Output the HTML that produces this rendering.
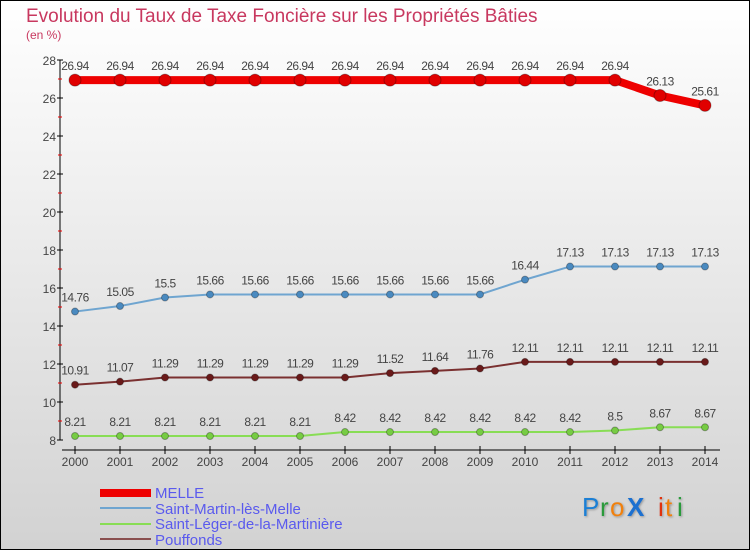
<!DOCTYPE html>
<html><head><meta charset="utf-8"><style>
body{margin:0}
svg{display:block;font-family:"Liberation Sans","DejaVu Sans",sans-serif}
</style></head><body>
<svg id="c" width="750" height="550" viewBox="0 0 750 550">
<defs><linearGradient id="bg" x1="0" y1="0" x2="0" y2="1"><stop offset="0" stop-color="#ffffff"/><stop offset="1" stop-color="#d2d2d2"/></linearGradient>
<filter id="sh"><feDropShadow dx="1" dy="1" stdDeviation="1" flood-opacity="0.3"/></filter></defs>
<rect x="0.5" y="0.5" width="749" height="549" fill="url(#bg)" stroke="#000"/>
<text x="26" y="22" font-size="19" fill="#c8385f">Evolution du Taux de Taxe Foncière sur les Propriétés Bâties</text>
<text x="26" y="39" font-size="12" fill="#c8385f">(en %)</text>
<g id="axes"></g><g id="series"></g>
<g>
<rect x="100" y="489" width="51" height="8" fill="#ee0000"/>
<text x="155" y="498" font-size="15" fill="#5a5aee">MELLE</text>
<rect x="100" y="507" width="51" height="2" fill="#6fa5d0"/>
<text x="155" y="514" font-size="15" fill="#5a5aee">Saint-Martin-lès-Melle</text>
<rect x="100" y="523" width="51" height="2" fill="#88dd55"/>
<text x="155" y="529" font-size="15" fill="#5a5aee">Saint-Léger-de-la-Martinière</text>
<rect x="100" y="538" width="51" height="2" fill="#8a5050"/>
<text x="155" y="545" font-size="15" fill="#5a5aee">Pouffonds</text>
</g>
<g font-size="26" filter="url(#sh)">
<text x="582" y="516" fill="#1a7fd4">P</text><text x="600" y="516" fill="#2a9a3a">r</text><text x="610" y="516" fill="#f08010">o</text><text x="627" y="516" fill="#1a6fd0" font-weight="bold">X</text><text x="658" y="516" fill="#e03010">i</text><text x="665" y="516" fill="#f08010">t</text><text x="677" y="516" fill="#2a9a3a">i</text>
</g>
</svg>
<script>
const years=[2000,2001,2002,2003,2004,2005,2006,2007,2008,2009,2010,2011,2012,2013,2014];
const melle=[26.94,26.94,26.94,26.94,26.94,26.94,26.94,26.94,26.94,26.94,26.94,26.94,26.94,26.13,25.61];
const saintMartin=[14.76,15.05,15.5,15.66,15.66,15.66,15.66,15.66,15.66,15.66,16.44,17.13,17.13,17.13,17.13];
const saintLeger=[8.21,8.21,8.21,8.21,8.21,8.21,8.42,8.42,8.42,8.42,8.42,8.42,8.5,8.67,8.67];
const pouffonds=[10.91,11.07,11.29,11.29,11.29,11.29,11.29,11.52,11.64,11.76,12.11,12.11,12.11,12.11,12.11];
const yTicks=[8,10,12,14,16,18,20,22,24,26,28];
const NS="http://www.w3.org/2000/svg";
const X=y=>75+(y-2000)*45, Y=v=>440-(v-8)*19;
function mk(p,t,a){const e=document.createElementNS(NS,t);for(const k in a)e.setAttribute(k,a[k]);p.appendChild(e);return e;}
const ax=document.getElementById('axes'), sr=document.getElementById('series');
let l=mk(ax,'line',{x1:60,y1:60,x2:60,y2:440,stroke:'#000'});


l=mk(ax,'line',{x1:62,y1:450,x2:720,y2:450,stroke:'#000'});


for(let v=9;v<28;v+=2){mk(ax,'line',{x1:58,x2:62,y1:Y(v),y2:Y(v),stroke:'#e00'});}
yTicks.forEach(v=>{mk(ax,'line',{x1:57,x2:63,y1:Y(v),y2:Y(v),stroke:'#000'});
const t=mk(ax,'text',{x:56,y:Y(v)+5,'text-anchor':'end','font-size':12,fill:'#444'});t.textContent=v;

});
years.forEach(y=>{mk(ax,'line',{x1:X(y),x2:X(y),y1:446,y2:454,stroke:'#000'});
const t=mk(ax,'text',{x:X(y),y:466,'text-anchor':'middle','font-size':12,fill:'#444'});t.textContent=y;

});
function series(d,name,col,w,r,dot){
const g=mk(sr,'g',{});


const p=mk(g,'polyline',{points:d.map((v,i)=>X(years[i])+','+Y(v)).join(' '),fill:'none',stroke:col,'stroke-width':w,'stroke-linejoin':'round'});


d.forEach((v,i)=>{const c=mk(g,'circle',{cx:X(years[i]),cy:Y(v),r:r,fill:dot,stroke:'rgba(0,0,0,0.3)','stroke-width':1});


const t=mk(g,'text',{x:X(years[i]),y:Y(v)-10,'text-anchor':'middle','font-size':12,fill:'#444','letter-spacing':'-0.5'});t.textContent=v;

});}
series(saintLeger,'saint-leger','#88dd55',2,3.5,'#77cc44');
series(pouffonds,'pouffonds','#7a3030',2,3.5,'#6a1a1a');
series(saintMartin,'saint-martin','#6fa5d0',2,3.5,'#4a8ac0');
series(melle,'melle','#ee0000',8,6,'#e00000');
</script>
</body></html>
